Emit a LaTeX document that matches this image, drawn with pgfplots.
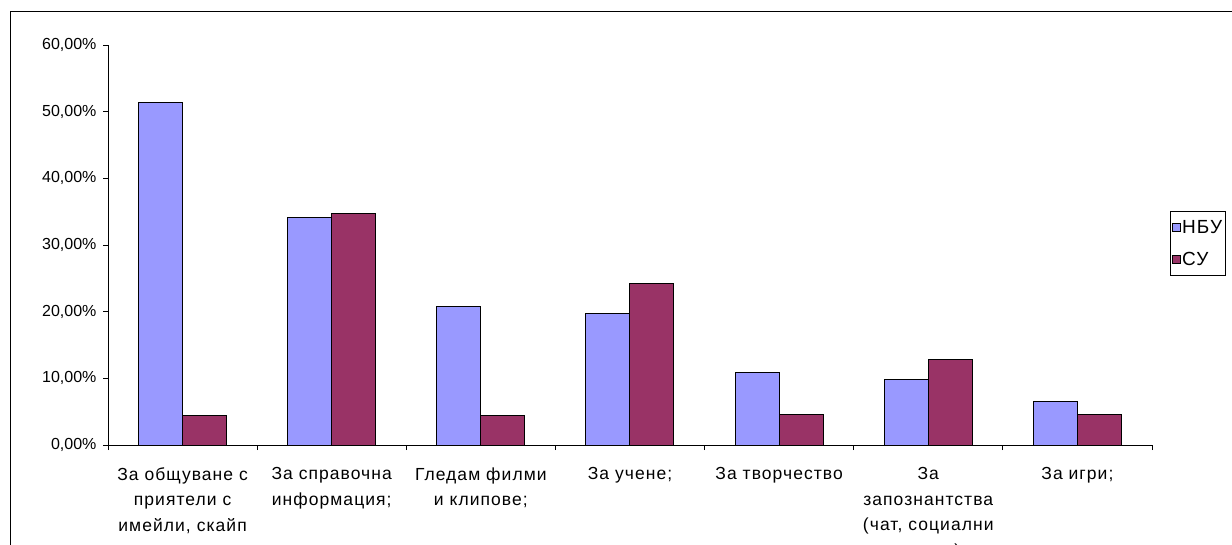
\documentclass[border=0pt]{standalone}
\usepackage{pgfplots}
\pgfplotsset{compat=1.18}
\usepackage{fontspec}
\setmainfont{Liberation Sans}
\newfontfamily\spaced[LetterSpace=6]{Liberation Sans}
\definecolor{nbu}{HTML}{9999FF}
\definecolor{su}{HTML}{993366}
\begin{document}
\begin{tikzpicture}
\path[use as bounding box] (0pt,0pt) rectangle (1232pt,-545pt);
\draw[line width=1pt] (10pt,-570pt) -- (10pt,-12pt) -- (1245pt,-12pt);
\begin{axis}[
    at={(108pt,-445pt)}, anchor=south west,
    scale only axis, width=1044pt, height=400pt,
    ybar=0pt, bar width=44pt,
    xmin=-0.5, xmax=6.5, ymin=0, ymax=60,
    axis lines=left, axis line style={-, line width=0.8pt},
    tick align=outside, major tick length=5pt,
    tick style={black, line width=0.8pt},
    xtick={-0.5,0.5,1.5,2.5,3.5,4.5,5.5,6.5}, xticklabels={},
    extra x ticks={0,1,2,3,4,5,6},
    extra x tick style={major tick length=0pt},
    extra x tick labels={{За общуване с\\приятели с\\имейли, скайп},
        {За справочна\\информация;}, {Гледам филми\\и клипове;},
        {За учене;}, {За творчество}, {За\\запознантства\\(чат, социални\\мрежи)},
        {За игри;}},
    xticklabel style={align=center, font=\spaced\fontsize{17.5}{25.5}\selectfont, yshift=-19pt},
    ytick={0,10,20,30,40,50,60},
    yticklabels={{0,00\%},{10,00\%},{20,00\%},{30,00\%},{40,00\%},{50,00\%},{60,00\%}},
    yticklabel style={font=\fontsize{16}{18}\selectfont, xshift=-3pt},
    legend style={at={(1.0172,0.585)}, anchor=north west, draw=black, line width=0.8pt,
        font=\spaced\fontsize{19}{21}\selectfont, row sep=15pt, inner xsep=2pt, inner ysep=8pt,
        nodes={inner sep=1pt}},
    legend cell align=left,
    legend image code/.code={\draw[#1, line width=0.8pt] (0pt,-4pt) rectangle (8pt,4pt);},
]
\addplot[fill=nbu, draw=black, line width=1pt] coordinates {
    (0,51.4) (1,34.2) (2,20.8) (3,19.8) (4,10.9) (5,9.9) (6,6.5)};
\addplot[fill=su, draw=black, line width=1pt] coordinates {
    (0,4.4) (1,34.7) (2,4.4) (3,24.2) (4,4.6) (5,12.9) (6,4.6)};
\legend{НБУ, СУ}
\end{axis}
\end{tikzpicture}
\end{document}
